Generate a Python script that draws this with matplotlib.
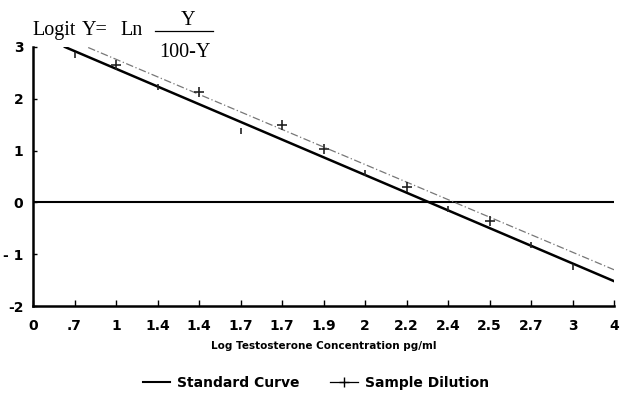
import matplotlib
matplotlib.use("Agg")
import matplotlib.pyplot as plt
from matplotlib.lines import Line2D

# x axis is categorical: tick labels as printed on the chart
x_labels = ["0", ".7", "1", "1.4", "1.4", "1.7", "1.7", "1.9", "2", "2.2",
            "2.4", "2.5", "2.7", "3", "4"]
y_ticks = [3, 2, 1, 0, -1, -2]
y_labels = ["3", "2", "1", "0", "- 1", "-2"]

# standard curve (fitted line) and its points
std_line_x = [0.77, 14]
std_line_y = [3.0, -1.52]
std_pts_x = [1, 3, 5, 8, 10, 12, 13]
std_pts_y = [2.85, 2.23, 1.38, 0.57, -0.13, -0.82, -1.24]

# sample dilution (fitted line) and its points
smp_line_x = [1.33, 14]
smp_line_y = [2.99, -1.30]
smp_pts_x = [2, 4, 6, 7, 9, 11]
smp_pts_y = [2.65, 2.14, 1.49, 1.04, 0.30, -0.35]

plt.rcParams["font.family"] = ["DejaVu Sans"]
plt.rcParams["font.weight"] = "bold"
plt.rcParams["axes.unicode_minus"] = False

fig = plt.figure(figsize=(6.2, 3.96), dpi=100)
W, H = 620, 396
ax = fig.add_axes([33 / W, 1 - 306 / H, 581 / W, 259 / H])

ax.axhline(0, color="black", lw=1.5, zorder=1)
ax.plot(std_line_x, std_line_y, color="black", lw=1.8, zorder=3)
ax.plot(std_pts_x, std_pts_y, ls="none", marker="|", ms=4, mew=1.2,
        color="#222222", zorder=4)
ax.plot(smp_line_x, smp_line_y, color="#777777", lw=0.9, ls=(0, (6, 2, 1, 2)),
        zorder=2)
ax.plot(smp_pts_x, smp_pts_y, ls="none", marker="+", ms=7, mew=1.2,
        color="#222222", zorder=4)

ax.set_xlim(0, 14)
ax.set_ylim(-2, 3)
ax.set_xticks(range(len(x_labels)))
ax.set_xticklabels(x_labels, fontsize=10, fontweight="bold")
ax.set_yticks(y_ticks)
ax.set_yticklabels(y_labels, fontsize=10, fontweight="bold")
ax.tick_params(axis="x", direction="in", length=4, width=1, pad=9)
ax.tick_params(axis="y", direction="in", length=3, width=1, pad=7)
for s in ["top", "right"]:
    ax.spines[s].set_visible(False)
for s in ["left", "bottom"]:
    ax.spines[s].set_linewidth(1.8)

ax.set_xlabel("Log Testosterone Concentration pg/ml", fontsize=7.5,
              fontweight="bold", labelpad=6)

# y axis title: Logit Y = Ln Y/(100-Y)
serif = ["Liberation Serif", "DejaVu Serif"]
tkw = dict(fontsize=14.5, family=serif, fontweight="normal", va="baseline")
fig.text(32 / W, 1 - 35 / H, "Logit", ha="left", **tkw)
fig.text(82 / W, 1 - 35 / H, "Y=", ha="left", **tkw)
fig.text(120 / W, 1 - 35 / H, "Ln", ha="left", **tkw)
fig.text(188 / W, 1 - 25 / H, "Y", ha="center", **tkw)
fig.add_artist(Line2D([155 / W, 213 / W], [1 - 30.7 / H, 1 - 30.7 / H],
                      color="black", lw=0.9))
fig.text(185 / W, 1 - 57 / H, "100-Y", ha="center", **tkw)

handles = [Line2D([], [], color="black", lw=1.5),
           Line2D([], [], color="black", lw=0.9, marker="+", ms=7, mew=1)]
fig.legend(handles, ["Standard Curve", "Sample Dilution"], loc="center",
           bbox_to_anchor=(316 / W, 1 - 383 / H), ncol=2, frameon=False,
           prop={"size": 10, "weight": "bold"}, handlelength=2.0,
           columnspacing=2.2, handletextpad=0.5)

fig.savefig("out.png", dpi=100)
